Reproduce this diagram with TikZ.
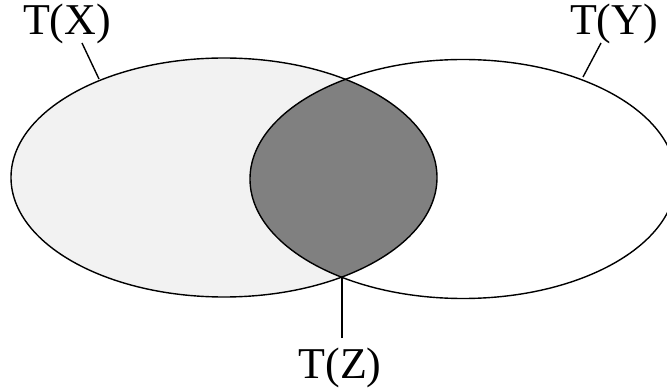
\documentclass[tikz,border=0pt]{standalone}
\usepackage{fontspec}
\setmainfont{Liberation Serif}
\begin{document}
\begin{tikzpicture}[x=1pt,y=-1pt,
  outline/.style={draw=black,line width=1.4pt},
  leader/.style={draw=black,line width=1.4pt},
  lbl/.style={inner sep=0pt,anchor=base,font=\fontsize{44}{44}\selectfont}]
\useasboundingbox (0,0) rectangle (667,390);
% left ellipse T(X)
\coordinate (cx) at (224,177.5);
\coordinate (cy) at (463,179);
\fill[fill={rgb,255:red,242;green,242;blue,242}] (cx) ellipse [x radius=213pt, y radius=119.5pt];
\begin{scope}
  \clip (cx) ellipse [x radius=213pt, y radius=119.5pt];
  \fill[fill={rgb,255:red,128;green,128;blue,128}] (cy) ellipse [x radius=213pt, y radius=119.5pt];
\end{scope}
\draw[outline] (cx) ellipse [x radius=213pt, y radius=119.5pt];
\draw[outline] (cy) ellipse [x radius=213pt, y radius=119.5pt];
% labels
\node[lbl] (tx) at (67,35) {T(X)};
\node[lbl] (ty) at (614,35) {T(Y)};
\node[lbl] (tz) at (340,378) {T(Z)};
% leader end points
\coordinate (txa) at (82,43);
\coordinate (txb) at (99,79);
\coordinate (tya) at (601,43);
\coordinate (tyb) at (583,77);
\coordinate (tza) at (342,338);
\coordinate (tzb) at (342,277);
\draw[leader] (txa) -- (txb);
\draw[leader] (tya) -- (tyb);
\draw[leader] (tza) -- (tzb);
\end{tikzpicture}
\end{document}
